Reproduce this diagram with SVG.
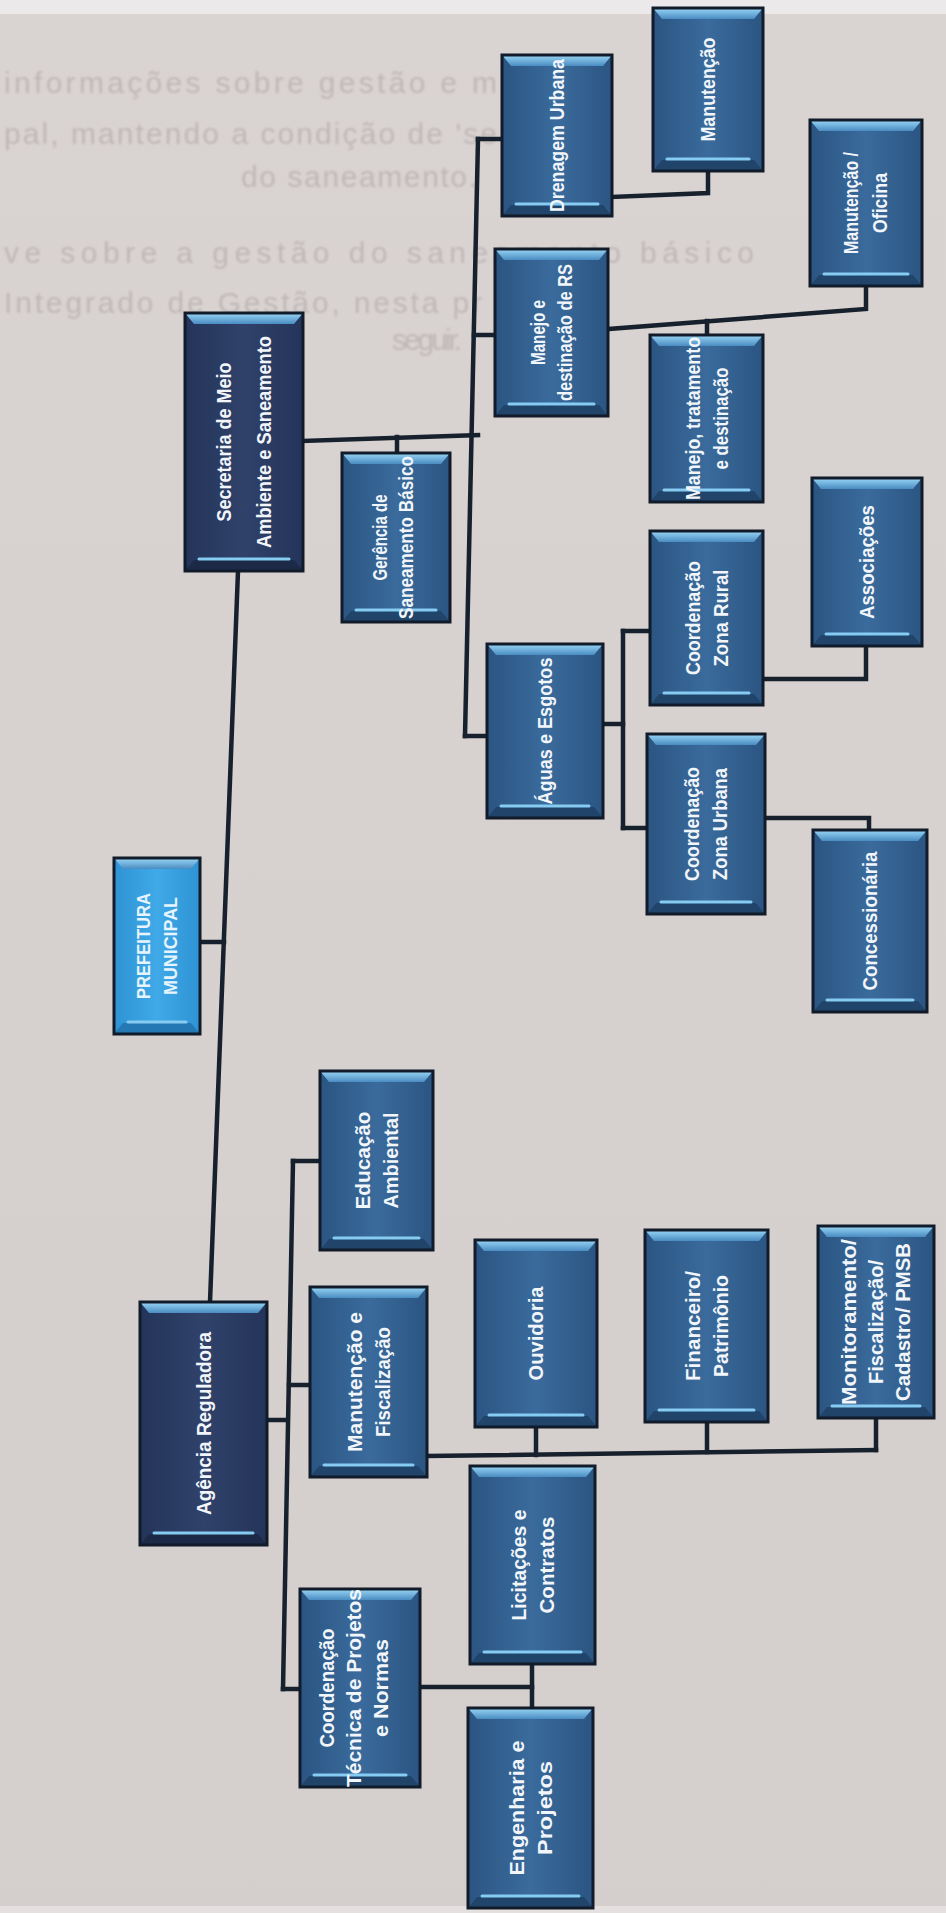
<svg xmlns="http://www.w3.org/2000/svg" width="946" height="1913" viewBox="0 0 946 1913">
<defs>
<linearGradient id="gM" x1="0" y1="0" x2="1" y2="0"><stop offset="0" stop-color="#2b5582"/><stop offset="0.5" stop-color="#3a6b9c"/><stop offset="1" stop-color="#2b5582"/></linearGradient>
<linearGradient id="gD" x1="0" y1="0" x2="1" y2="0"><stop offset="0" stop-color="#24345a"/><stop offset="0.5" stop-color="#30426a"/><stop offset="1" stop-color="#24345a"/></linearGradient>
<linearGradient id="gP" x1="0" y1="0" x2="1" y2="0"><stop offset="0" stop-color="#2e93d4"/><stop offset="0.5" stop-color="#40a9e8"/><stop offset="1" stop-color="#2e93d4"/></linearGradient>
<linearGradient id="gTop" x1="0" y1="0" x2="0" y2="1"><stop offset="0" stop-color="#9ad8f6"/><stop offset="1" stop-color="#4a8cc2"/></linearGradient>
<linearGradient id="gBg" x1="0" y1="0" x2="0" y2="1"><stop offset="0" stop-color="#d9d3d2"/><stop offset="1" stop-color="#d4cecc"/></linearGradient>
<filter id="soft" x="-5%" y="-50%" width="110%" height="200%"><feGaussianBlur stdDeviation="0.9"/></filter>
</defs>
<style>
.m{fill:url(#gM)}
.d{fill:url(#gD)}
.p{fill:url(#gP)}
.ol{fill:none;stroke:#111b29;stroke-width:3}
.bt{fill:url(#gTop)}
.bb{fill:#21446b}
.bbd{fill:#1c2a48}
.bbp{fill:#2478b4}
.hl{stroke:#86ccf2;stroke-width:3;stroke-linecap:round}
.t{font-family:"Liberation Sans",Arial,sans-serif;font-size:21px;font-weight:bold;fill:#f2f6fa;text-anchor:middle}
.tp{font-family:"Liberation Sans",Arial,sans-serif;font-size:19px;font-weight:bold;fill:#e6f4fd;text-anchor:middle}
.c{fill:none;stroke:#17202d;stroke-width:4.5;stroke-linecap:square}
.ghost{font-family:"Liberation Sans",Arial,sans-serif;font-size:30px;fill:#bfb8b6}
</style>
<rect x="0" y="0" width="946" height="1913" fill="url(#gBg)"/>
<rect x="0" y="0" width="946" height="14" fill="#ebe9e9"/>
<rect x="0" y="1906" width="946" height="7" fill="#e4e0df"/>

<g id="page-text" class="ghost" filter="url(#soft)">
<text x="4" y="93" textLength="493" lengthAdjust="spacing">informações sobre gestão e m</text>
<text x="4" y="144" textLength="493" lengthAdjust="spacing">pal, mantendo a condição de 'se</text>
<text x="241" y="187" textLength="236" lengthAdjust="spacing">do saneamento.</text>
<text x="4" y="263" textLength="750" lengthAdjust="spacing">ve sobre a gestão do saneamento básico</text>
<text x="4" y="313" textLength="478" lengthAdjust="spacing">Integrado de Gestão, nesta pr</text>
<text x="392" y="350" textLength="70" lengthAdjust="spacing">seguir.</text>
</g>

<g id="connectors" class="c">
<path d="M238,571 L210,1302"/>
<path d="M200,942 H224"/>
<path d="M303,441 L478,435"/>
<path d="M397,437 V453"/>
<path d="M478,139 L465,736"/>
<path d="M478,139 H502"/>
<path d="M474,335 H495"/>
<path d="M465,736 H487"/>
<path d="M612,197 L708,193 V171"/>
<path d="M608,329 L866,309 V286"/>
<path d="M707,321 V335"/>
<path d="M603,724 H623"/>
<path d="M623,631 V828"/>
<path d="M623,631 H650"/>
<path d="M623,828 H647"/>
<path d="M763,679 H866 V646"/>
<path d="M765,818 H869 V830"/>
<path d="M267,1420 H287"/>
<path d="M293,1161 L283,1689"/>
<path d="M293,1161 H320"/>
<path d="M289,1385 H310"/>
<path d="M283,1689 H300"/>
<path d="M427,1456 L876,1450"/>
<path d="M536,1427 V1455"/>
<path d="M707,1422 V1452"/>
<path d="M876,1418 V1450"/>
<path d="M420,1687 H532"/>
<path d="M532,1664 V1708"/>
</g>

<g id="manutencao">
<rect class="m" x="653" y="8" width="110" height="163"/>
<polygon class="bt" points="653,8 763,8 754,19 662,19"/>
<polygon class="bb" points="662,160 754,160 763,171 653,171"/>
<line class="hl" x1="667" y1="159" x2="749" y2="159"/>
<rect class="ol" x="653" y="8" width="110" height="163"/>
<g transform="translate(708,89.5) rotate(-90)"><text class="t" x="0" y="7" textLength="104" lengthAdjust="spacingAndGlyphs">Manutenção</text></g>
</g>

<g id="drenagem">
<rect class="m" x="502" y="55" width="110" height="161"/>
<polygon class="bt" points="502,55 612,55 603,66 511,66"/>
<polygon class="bb" points="511,205 603,205 612,216 502,216"/>
<line class="hl" x1="516" y1="204" x2="598" y2="204"/>
<rect class="ol" x="502" y="55" width="110" height="161"/>
<g transform="translate(557,135.5) rotate(-90)"><text class="t" x="0" y="7" textLength="153" lengthAdjust="spacingAndGlyphs">Drenagem Urbana</text></g>
</g>

<g id="oficina">
<rect class="m" x="810" y="120" width="112" height="166"/>
<polygon class="bt" points="810,120 922,120 913,131 819,131"/>
<polygon class="bb" points="819,275 913,275 922,286 810,286"/>
<line class="hl" x1="824" y1="274" x2="908" y2="274"/>
<rect class="ol" x="810" y="120" width="112" height="166"/>
<g transform="translate(866,203) rotate(-90)">
<text class="t" x="0" y="-8" textLength="102" lengthAdjust="spacingAndGlyphs">Manutenção /</text>
<text class="t" x="0" y="21" textLength="60" lengthAdjust="spacingAndGlyphs">Oficina</text></g>
</g>

<g id="manejo-rs">
<rect class="m" x="495" y="249" width="113" height="167"/>
<polygon class="bt" points="495,249 608,249 599,260 504,260"/>
<polygon class="bb" points="504,405 599,405 608,416 495,416"/>
<line class="hl" x1="509" y1="404" x2="594" y2="404"/>
<rect class="ol" x="495" y="249" width="113" height="167"/>
<g transform="translate(551.5,332.5) rotate(-90)">
<text class="t" x="0" y="-7" textLength="65" lengthAdjust="spacingAndGlyphs">Manejo e</text>
<text class="t" x="0" y="20" textLength="137" lengthAdjust="spacingAndGlyphs">destinação de RS</text></g>
</g>

<g id="secretaria">
<rect class="d" x="185" y="313" width="118" height="258"/>
<polygon class="bt" points="185,313 303,313 294,324 194,324"/>
<polygon class="bbd" points="194,560 294,560 303,571 185,571"/>
<line class="hl" x1="199" y1="559" x2="289" y2="559"/>
<rect class="ol" x="185" y="313" width="118" height="258"/>
<g transform="translate(244,442) rotate(-90)">
<text class="t" x="0" y="-13" textLength="159" lengthAdjust="spacingAndGlyphs">Secretaria de Meio</text>
<text class="t" x="0" y="27" textLength="212" lengthAdjust="spacingAndGlyphs">Ambiente e Saneamento</text></g>
</g>

<g id="manejo-tratamento">
<rect class="m" x="650" y="335" width="113" height="167"/>
<polygon class="bt" points="650,335 763,335 754,346 659,346"/>
<polygon class="bb" points="659,491 754,491 763,502 650,502"/>
<line class="hl" x1="664" y1="490" x2="749" y2="490"/>
<rect class="ol" x="650" y="335" width="113" height="167"/>
<g transform="translate(706.5,418.5) rotate(-90)">
<text class="t" x="0" y="-7" textLength="163" lengthAdjust="spacingAndGlyphs">Manejo, tratamento</text>
<text class="t" x="0" y="21" textLength="102" lengthAdjust="spacingAndGlyphs">e destinação</text></g>
</g>

<g id="gerencia">
<rect class="m" x="342" y="453" width="108" height="169"/>
<polygon class="bt" points="342,453 450,453 441,464 351,464"/>
<polygon class="bb" points="351,611 441,611 450,622 342,622"/>
<line class="hl" x1="356" y1="610" x2="436" y2="610"/>
<rect class="ol" x="342" y="453" width="108" height="169"/>
<g transform="translate(396,537.5) rotate(-90)">
<text class="t" x="0" y="-9" textLength="86" lengthAdjust="spacingAndGlyphs">Gerência de</text>
<text class="t" x="0" y="17" textLength="163" lengthAdjust="spacingAndGlyphs">Saneamento Básico</text></g>
</g>

<g id="associacoes">
<rect class="m" x="812" y="478" width="110" height="168"/>
<polygon class="bt" points="812,478 922,478 913,489 821,489"/>
<polygon class="bb" points="821,635 913,635 922,646 812,646"/>
<line class="hl" x1="826" y1="634" x2="908" y2="634"/>
<rect class="ol" x="812" y="478" width="110" height="168"/>
<g transform="translate(867,562) rotate(-90)"><text class="t" x="0" y="7" textLength="114" lengthAdjust="spacingAndGlyphs">Associações</text></g>
</g>

<g id="zona-rural">
<rect class="m" x="650" y="531" width="113" height="174"/>
<polygon class="bt" points="650,531 763,531 754,542 659,542"/>
<polygon class="bb" points="659,694 754,694 763,705 650,705"/>
<line class="hl" x1="664" y1="693" x2="749" y2="693"/>
<rect class="ol" x="650" y="531" width="113" height="174"/>
<g transform="translate(706.5,618) rotate(-90)">
<text class="t" x="0" y="-7" textLength="114" lengthAdjust="spacingAndGlyphs">Coordenação</text>
<text class="t" x="0" y="21" textLength="97" lengthAdjust="spacingAndGlyphs">Zona Rural</text></g>
</g>

<g id="aguas">
<rect class="m" x="487" y="644" width="116" height="174"/>
<polygon class="bt" points="487,644 603,644 594,655 496,655"/>
<polygon class="bb" points="496,807 594,807 603,818 487,818"/>
<line class="hl" x1="501" y1="806" x2="589" y2="806"/>
<rect class="ol" x="487" y="644" width="116" height="174"/>
<g transform="translate(545,731) rotate(-90)"><text class="t" x="0" y="7" textLength="147" lengthAdjust="spacingAndGlyphs">Águas e Esgotos</text></g>
</g>

<g id="zona-urbana">
<rect class="m" x="647" y="734" width="118" height="180"/>
<polygon class="bt" points="647,734 765,734 756,745 656,745"/>
<polygon class="bb" points="656,903 756,903 765,914 647,914"/>
<line class="hl" x1="661" y1="902" x2="751" y2="902"/>
<rect class="ol" x="647" y="734" width="118" height="180"/>
<g transform="translate(706,824) rotate(-90)">
<text class="t" x="0" y="-7" textLength="114" lengthAdjust="spacingAndGlyphs">Coordenação</text>
<text class="t" x="0" y="21" textLength="112" lengthAdjust="spacingAndGlyphs">Zona Urbana</text></g>
</g>

<g id="concessionaria">
<rect class="m" x="813" y="830" width="114" height="182"/>
<polygon class="bt" points="813,830 927,830 918,841 822,841"/>
<polygon class="bb" points="822,1001 918,1001 927,1012 813,1012"/>
<line class="hl" x1="827" y1="1000" x2="913" y2="1000"/>
<rect class="ol" x="813" y="830" width="114" height="182"/>
<g transform="translate(870,921) rotate(-90)"><text class="t" x="0" y="7" textLength="139" lengthAdjust="spacingAndGlyphs">Concessionária</text></g>
</g>

<g id="prefeitura">
<rect class="p" x="114" y="858" width="86" height="176"/>
<polygon class="bt" points="114,858 200,858 191,869 123,869"/>
<polygon class="bbp" points="123,1023 191,1023 200,1034 114,1034"/>
<line class="hl" x1="128" y1="1022" x2="186" y2="1022"/>
<rect class="ol" x="114" y="858" width="86" height="176"/>
<g transform="translate(157,946) rotate(-90)">
<text class="tp" x="0" y="-7" textLength="106" lengthAdjust="spacingAndGlyphs">PREFEITURA</text>
<text class="tp" x="0" y="20" textLength="98" lengthAdjust="spacingAndGlyphs">MUNICIPAL</text></g>
</g>

<g id="educacao">
<rect class="m" x="320" y="1071" width="113" height="179"/>
<polygon class="bt" points="320,1071 433,1071 424,1082 329,1082"/>
<polygon class="bb" points="329,1239 424,1239 433,1250 320,1250"/>
<line class="hl" x1="334" y1="1238" x2="419" y2="1238"/>
<rect class="ol" x="320" y="1071" width="113" height="179"/>
<g transform="translate(376.5,1160.5) rotate(-90)">
<text class="t" x="0" y="-7" textLength="98" lengthAdjust="spacingAndGlyphs">Educação</text>
<text class="t" x="0" y="21" textLength="96" lengthAdjust="spacingAndGlyphs">Ambiental</text></g>
</g>

<g id="financeiro">
<rect class="m" x="645" y="1230" width="123" height="192"/>
<polygon class="bt" points="645,1230 768,1230 759,1241 654,1241"/>
<polygon class="bb" points="654,1411 759,1411 768,1422 645,1422"/>
<line class="hl" x1="659" y1="1410" x2="754" y2="1410"/>
<rect class="ol" x="645" y="1230" width="123" height="192"/>
<g transform="translate(706.5,1326) rotate(-90)">
<text class="t" x="0" y="-7" textLength="110" lengthAdjust="spacingAndGlyphs">Financeiro/</text>
<text class="t" x="0" y="21" textLength="102" lengthAdjust="spacingAndGlyphs">Patrimônio</text></g>
</g>

<g id="monitoramento">
<rect class="m" x="818" y="1226" width="116" height="192"/>
<polygon class="bt" points="818,1226 934,1226 925,1237 827,1237"/>
<polygon class="bb" points="827,1407 925,1407 934,1418 818,1418"/>
<line class="hl" x1="832" y1="1406" x2="920" y2="1406"/>
<rect class="ol" x="818" y="1226" width="116" height="192"/>
<g transform="translate(876,1322) rotate(-90)">
<text class="t" x="0" y="-20" textLength="166" lengthAdjust="spacingAndGlyphs">Monitoramento/</text>
<text class="t" x="0" y="7" textLength="124" lengthAdjust="spacingAndGlyphs">Fiscalização/</text>
<text class="t" x="0" y="34" textLength="158" lengthAdjust="spacingAndGlyphs">Cadastro/ PMSB</text></g>
</g>

<g id="ouvidoria">
<rect class="m" x="475" y="1240" width="122" height="187"/>
<polygon class="bt" points="475,1240 597,1240 588,1251 484,1251"/>
<polygon class="bb" points="484,1416 588,1416 597,1427 475,1427"/>
<line class="hl" x1="489" y1="1415" x2="583" y2="1415"/>
<rect class="ol" x="475" y="1240" width="122" height="187"/>
<g transform="translate(536,1333.5) rotate(-90)"><text class="t" x="0" y="7" textLength="94" lengthAdjust="spacingAndGlyphs">Ouvidoria</text></g>
</g>

<g id="manutencao-fiscalizacao">
<rect class="m" x="310" y="1287" width="117" height="190"/>
<polygon class="bt" points="310,1287 427,1287 418,1298 319,1298"/>
<polygon class="bb" points="319,1466 418,1466 427,1477 310,1477"/>
<line class="hl" x1="324" y1="1465" x2="413" y2="1465"/>
<rect class="ol" x="310" y="1287" width="117" height="190"/>
<g transform="translate(368.5,1382) rotate(-90)">
<text class="t" x="0" y="-7" textLength="140" lengthAdjust="spacingAndGlyphs">Manutenção e</text>
<text class="t" x="0" y="21" textLength="110" lengthAdjust="spacingAndGlyphs">Fiscalização</text></g>
</g>

<g id="agencia">
<rect class="d" x="140" y="1302" width="127" height="243"/>
<polygon class="bt" points="140,1302 267,1302 258,1313 149,1313"/>
<polygon class="bbd" points="149,1534 258,1534 267,1545 140,1545"/>
<line class="hl" x1="154" y1="1533" x2="253" y2="1533"/>
<rect class="ol" x="140" y="1302" width="127" height="243"/>
<g transform="translate(203.5,1423.5) rotate(-90)"><text class="t" x="0" y="7" textLength="183" lengthAdjust="spacingAndGlyphs">Agência Reguladora</text></g>
</g>

<g id="licitacoes">
<rect class="m" x="470" y="1466" width="125" height="198"/>
<polygon class="bt" points="470,1466 595,1466 586,1477 479,1477"/>
<polygon class="bb" points="479,1653 586,1653 595,1664 470,1664"/>
<line class="hl" x1="484" y1="1652" x2="581" y2="1652"/>
<rect class="ol" x="470" y="1466" width="125" height="198"/>
<g transform="translate(532.5,1565) rotate(-90)">
<text class="t" x="0" y="-7" textLength="111" lengthAdjust="spacingAndGlyphs">Licitações e</text>
<text class="t" x="0" y="21" textLength="97" lengthAdjust="spacingAndGlyphs">Contratos</text></g>
</g>

<g id="coordenacao-tecnica">
<rect class="m" x="300" y="1589" width="120" height="198"/>
<polygon class="bt" points="300,1589 420,1589 411,1600 309,1600"/>
<polygon class="bb" points="309,1776 411,1776 420,1787 300,1787"/>
<line class="hl" x1="314" y1="1775" x2="406" y2="1775"/>
<rect class="ol" x="300" y="1589" width="120" height="198"/>
<g transform="translate(360,1688) rotate(-90)">
<text class="t" x="0" y="-26" textLength="119" lengthAdjust="spacingAndGlyphs">Coordenação</text>
<text class="t" x="0" y="1" textLength="198" lengthAdjust="spacingAndGlyphs">Técnica de Projetos</text>
<text class="t" x="0" y="28" textLength="98" lengthAdjust="spacingAndGlyphs">e Normas</text></g>
</g>

<g id="engenharia">
<rect class="m" x="468" y="1708" width="125" height="200"/>
<polygon class="bt" points="468,1708 593,1708 584,1719 477,1719"/>
<polygon class="bb" points="477,1897 584,1897 593,1908 468,1908"/>
<line class="hl" x1="482" y1="1896" x2="579" y2="1896"/>
<rect class="ol" x="468" y="1708" width="125" height="200"/>
<g transform="translate(530.5,1808) rotate(-90)">
<text class="t" x="0" y="-7" textLength="135" lengthAdjust="spacingAndGlyphs">Engenharia e</text>
<text class="t" x="0" y="21" textLength="94" lengthAdjust="spacingAndGlyphs">Projetos</text></g>
</g>
</svg>
